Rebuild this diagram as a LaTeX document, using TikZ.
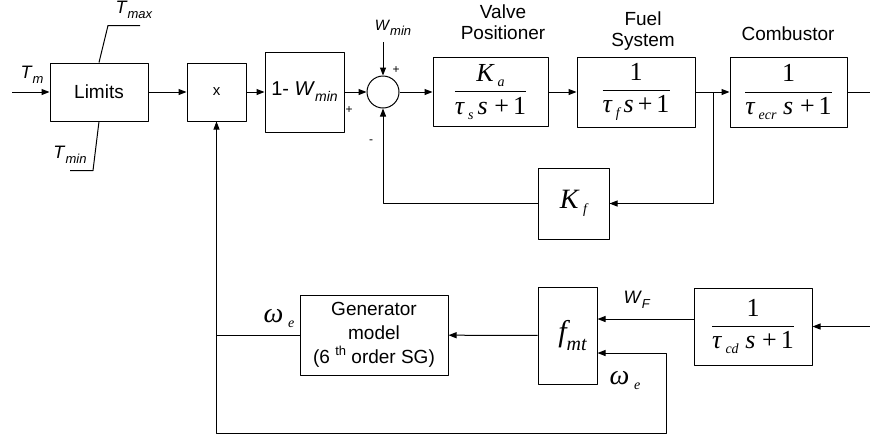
\documentclass[tikz,border=0pt]{standalone}
\usepackage{fontspec}
\setmainfont{Liberation Sans}
\newfontfamily\tms{Liberation Serif}
\usetikzlibrary{arrows.meta,positioning}
% Times italic / upright pieces and small subscripts
\newcommand{\ti}[1]{\mbox{\tms\itshape #1}}
\newcommand{\tu}[1]{\mbox{\tms #1}}
\newcommand{\sbs}[1]{\raisebox{-2.5pt}{\fontsize{7}{8}\selectfont\tms\itshape #1}}
\newcommand{\lbl}[2]{\textit{#1}\raisebox{-0.3em}{\fontsize{6.5}{7}\selectfont\textit{#2}}}
\begin{document}
\begin{tikzpicture}[x=0.5pt,y=-0.5pt,line join=round,line width=0.5pt,
	>={Triangle[length=4pt,width=3pt]},
	block/.style={draw,inner sep=0pt,align=center,font=\fontsize{9.5}{12}\selectfont},
	frac/.style={block,font=\fontsize{13}{15}\selectfont},
	lab/.style={inner sep=0pt,font=\fontsize{9}{10}\selectfont},
	title/.style={inner sep=0pt,align=center,font=\fontsize{9.5}{10.5}\selectfont},
	sgn/.style={inner sep=0pt,font=\fontsize{6}{7}\selectfont}]
	\useasboundingbox (0,0) rectangle (870,441);
	%Khoi phia tren
	\node[block,minimum width=49pt,minimum height=29pt] (lim) at (99,92) {Limits};
	\node[block,minimum width=29.5pt,minimum height=29pt,font=\fontsize{7.5}{9}\selectfont] (mult) at (216.5,92) {x};
	\node[block,minimum width=39.5pt,minimum height=40pt,font=\fontsize{10}{12}\selectfont] (onem) at (304.5,92) {1- \textit{W}\raisebox{-0.3em}{\fontsize{7}{8}\selectfont\textit{min}}};
	\node[draw,circle,minimum size=16pt,inner sep=0pt] (sum) at (383,92) {};
	\node[frac,minimum width=57.5pt,minimum height=34.5pt] (valve) at (490.5,92) {$\displaystyle\frac{\ti{K}\,\sbs{a}}{\ti{τ}\,\sbs{s}\,\ti{s}\;\tu{+}\,\tu{1}}$};
	\node[frac,minimum width=59pt,minimum height=35pt] (fuel) at (636,92) {$\displaystyle\frac{\tu{1}}{\ti{τ}\,\sbs{f}\,\ti{s}\,\tu{+}\,\tu{1}}$};
	\node[frac,minimum width=58.5pt,minimum height=35pt] (comb) at (788.5,92) {$\displaystyle\frac{\tu{1}}{\ti{τ}\,\sbs{ecr}\;\ti{s}\;\tu{+}\,\tu{1}}$};
	\node[frac,minimum width=35.5pt,minimum height=35.5pt,font=\fontsize{14}{16}\selectfont] (kf) at (573.5,203.5) {\ti{K}\,\sbs{f}};
	%Khoi phia duoi
	\node[block,minimum width=74pt,minimum height=40pt] (gen) at (374,335) {Generator\\model\\(6 \raisebox{0.45em}{\fontsize{6.5}{7}\selectfont th} order SG)};
	\node[frac,minimum width=29.5pt,minimum height=48.5pt,font=\fontsize{15}{17}\selectfont] (fmt) at (567.5,335.5) {\hspace*{5pt}\ti{f}\raisebox{-0.3em}{\fontsize{10}{11}\selectfont\tms\itshape mt}};
	\node[frac,minimum width=59pt,minimum height=38.5pt] (cd) at (753,326.5) {$\displaystyle\frac{\tu{1}}{\ti{τ}\,\sbs{cd}\;\ti{s}\;\tu{+}\,\tu{1}}$};
	%Cac diem dau, cuoi
	\coordinate (tin) at (12,92);
	\coordinate (tout) at (870,92);
	\coordinate (wtop) at (383,42);
	\coordinate (br) at (713,92);
	\coordinate (cdin) at (870,326.5);
	\coordinate (jn) at (mult.south |- gen.west);
	\coordinate (wf) at ([yshift=3.75pt]cd.west);
	\coordinate (we) at ([yshift=-8.75pt]fmt.east);
	%Duong noi
	\draw[->] (tin) -- (lim);
	\draw[->] (lim) -- (mult);
	\draw[->] (mult) -- (onem);
	\draw[->] (onem) -- (sum);
	\draw[->] (sum) -- (valve);
	\draw[->] (valve) -- (fuel);
	\draw[->] (fuel) -- (comb);
	\draw (comb) -- (tout);
	\draw[->] (wtop) -- (sum);
	\draw[->] (br) |- (kf);
	\draw[->] (kf) -| (sum);
	\draw (lim.north) -- ++(9,-37) -- ++(32,0);
	\draw (lim.south) -- ++(-6,49) -- ++(-23,0);
	\draw[->] (cdin) -- (cd);
	\draw[->] (wf) -- (wf -| fmt.east);
	\draw[->] (fmt) -- (gen);
	\draw (gen) -- (jn);
	\draw[->] (jn) -- (mult);
	\draw[->] (jn) |- (666,433) |- (we);
	%Nhan
	\node[lab] at (32,75) {\lbl{T}{m}};
	\node[lab] at (134,10) {\lbl{T}{max}};
	\node[lab] at (70,155) {\lbl{T}{min}};
	\node[lab,font=\fontsize{7.5}{9}\selectfont] at (393,28) {\lbl{W}{min}};
	\node[lab] at (637,300) {\lbl{W}{F}};
	\node[sgn] at (396,70) {+};
	\node[sgn] at (349,110) {+};
	\node[sgn] at (371,142) {-};
	\node[title] at (503,22) {Valve\\Positioner};
	\node[title] at (643,31) {Fuel\\System};
	\node[title] at (788,34) {Combustor};
	\node[inner sep=0pt,font=\fontsize{14}{16}\selectfont] at (279,318) {\ti{ω}\,\sbs{e}};
	\node[inner sep=0pt,font=\fontsize{14}{16}\selectfont] at (625,380) {\ti{ω}\,\sbs{e}};
\end{tikzpicture}
\end{document}
